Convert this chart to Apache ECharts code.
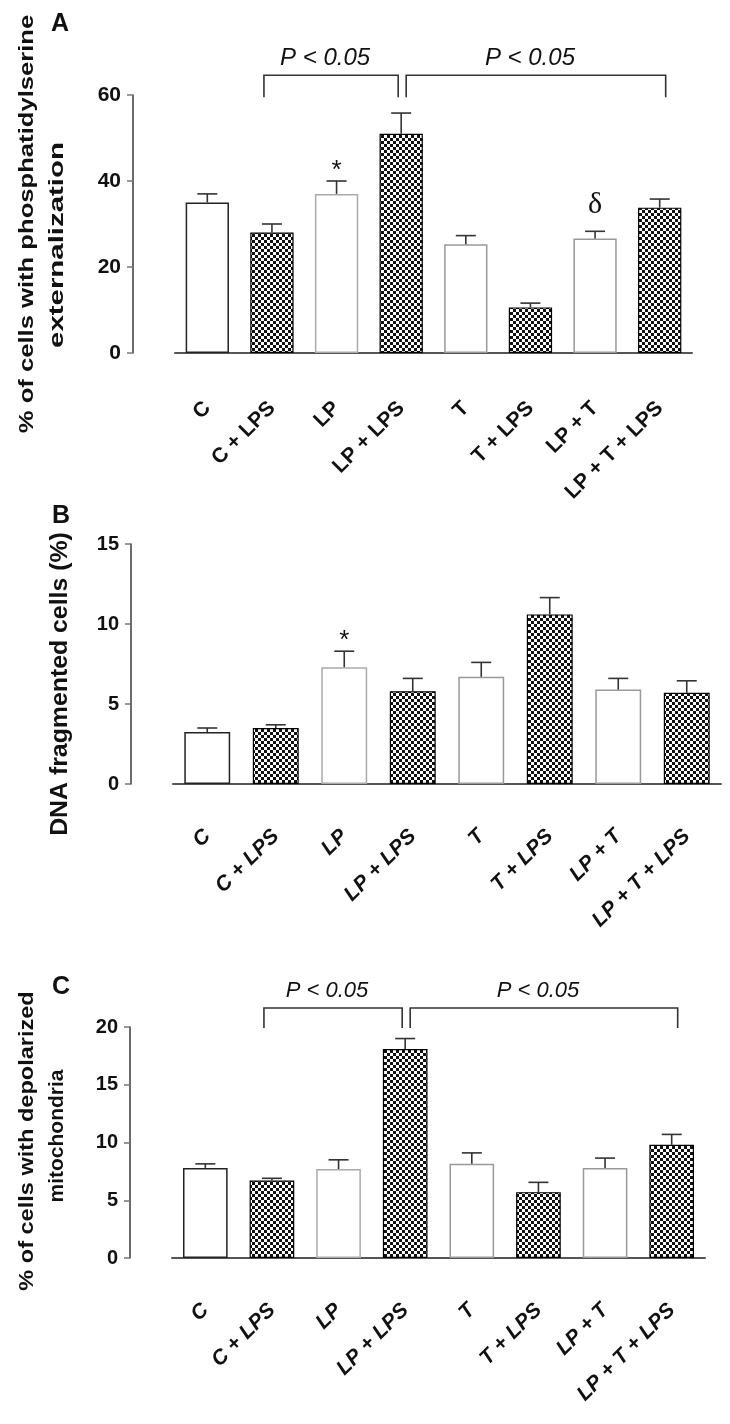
<!DOCTYPE html>
<html>
<head>
<meta charset="utf-8">
<script src="https://cdn.jsdelivr.net/npm/echarts@6/dist/echarts.min.js"></script>
<style>
  html, body { margin: 0; padding: 0; background: #fff; }
  #chart { width: 730px; height: 1424px; }
</style>
</head>
<body>
<div id="chart"></div>
<script>
// groups, same order in all three panels
const categories = ['C', 'C + LPS', 'LP', 'LP + LPS', 'T', 'T + LPS', 'LP + T', 'LP + T + LPS'];
// LPS groups are drawn with the checker fill
const lpsGroup = [false, true, false, true, false, true, false, true];

// A: % of cells with phosphatidylserine externalization
const psMean = [35, 28, 37, 51, 25.3, 10.6, 26.6, 33.8];
const psErr = [2, 2, 3, 4.8, 2, 1, 1.7, 2];
const psMarks = ['', '', '*', '', '', '', 'δ', ''];
const psTicks = [0, 20, 40, 60];

// B: DNA fragmented cells (%)
const dnaMean = [3.25, 3.5, 7.3, 5.8, 6.7, 10.6, 5.9, 5.7];
const dnaErr = [0.25, 0.2, 1.0, 0.8, 0.9, 1.05, 0.7, 0.75];
const dnaMarks = ['', '', '*', '', '', '', '', ''];
const dnaTicks = [0, 5, 10, 15];

// C: % of cells with depolarized mitochondria
const mitoMean = [7.8, 6.7, 7.7, 18.1, 8.15, 5.7, 7.8, 9.8];
const mitoErr = [0.35, 0.2, 0.8, 0.9, 0.95, 0.85, 0.85, 0.9];
const mitoMarks = ['', '', '', '', '', '', '', ''];
const mitoTicks = [0, 5, 10, 15, 20];

// significance brackets: [from group, to group]
const psBrackets = [[1, 3], [3, 7]];
const mitoBrackets = [[1, 3], [3, 7]];
const bracketText = 'P < 0.05';

const FONT = 'Liberation Sans, Arial, Helvetica, sans-serif';
const AXIS = '#3a3a3a';

// checkerboard pattern for the LPS bars
const checker = document.createElement('canvas');
checker.width = 6;
checker.height = 6;
(function () {
  const ctx = checker.getContext('2d');
  ctx.fillStyle = '#fff';
  ctx.fillRect(0, 0, 6, 6);
  ctx.fillStyle = '#111';
  ctx.fillRect(0, 0, 3, 3);
  ctx.fillRect(3, 3, 3, 3);
})();

const whiteBorder = ['#222', '#000', '#aaa', '#000', '#999', '#000', '#999', '#000'];

const panels = [
  { mean: psMean, err: psErr, marks: psMarks, ticks: psTicks, tickSize: 21, labelItalic: false,
    grid: { left: 175, top: 95, width: 517, height: 258 } },
  { mean: dnaMean, err: dnaErr, marks: dnaMarks, ticks: dnaTicks, tickSize: 20, labelItalic: true,
    grid: { left: 173, top: 544, width: 548, height: 240 } },
  { mean: mitoMean, err: mitoErr, marks: mitoMarks, ticks: mitoTicks, tickSize: 20, labelItalic: true,
    grid: { left: 172, top: 1027, width: 533, height: 231 } }
];

const grids = [], xAxes = [], yAxes = [], series = [];

panels.forEach((p, k) => {
  const step = p.ticks[1] - p.ticks[0];
  grids.push(p.grid);
  xAxes.push({
    type: 'category',
    gridIndex: k,
    data: categories,
    offset: k === 0 ? 42 : 39,
    axisLine: { lineStyle: { color: '#555', width: 2 } },
    axisTick: { alignWithLabel: true, length: 8, lineStyle: { color: '#555', width: 1.5 } },
    axisLabel: {
      rotate: 45, margin: 10, color: '#111',
      fontFamily: FONT, fontWeight: 'bold', fontSize: 21,
      fontStyle: p.labelItalic ? 'italic' : 'normal'
    }
  });
  yAxes.push({
    type: 'value',
    gridIndex: k,
    min: p.ticks[0],
    max: p.ticks[p.ticks.length - 1],
    interval: step,
    offset: 42,
    splitLine: { show: false },
    axisLine: { show: true, lineStyle: { color: AXIS, width: 1.5 } },
    axisTick: { show: true, length: 6, lineStyle: { color: '#777', width: 1.5 } },
    axisLabel: { margin: 12, color: '#111', fontFamily: FONT, fontWeight: 'bold', fontSize: p.tickSize }
  });

  series.push({
    type: 'bar',
    xAxisIndex: k,
    yAxisIndex: k,
    barCategoryGap: '33%',
    silent: true,
    data: p.mean.map((v, i) => ({
      value: v,
      itemStyle: lpsGroup[i]
        ? { color: { image: checker, repeat: 'repeat' }, borderColor: '#000', borderWidth: 1.2 }
        : { color: '#fff', borderColor: whiteBorder[i], borderWidth: 1.5 }
    })),
    z: 2
  });

  // error bars (upper half only)
  series.push({
    type: 'custom',
    xAxisIndex: k,
    yAxisIndex: k,
    silent: true,
    z: 3,
    data: p.mean.map((v, i) => [i, v, v + p.err[i]]),
    renderItem: function (params, api) {
      const lo = api.coord([api.value(0), api.value(1)]);
      const hi = api.coord([api.value(0), api.value(2)]);
      const st = { stroke: '#333', lineWidth: 1.6 };
      return {
        type: 'group',
        children: [
          { type: 'line', shape: { x1: lo[0], y1: lo[1], x2: hi[0], y2: hi[1] }, style: st },
          { type: 'line', shape: { x1: hi[0] - 10, y1: hi[1], x2: hi[0] + 10, y2: hi[1] }, style: st }
        ]
      };
    }
  });

  // significance marks above the error bars
  series.push({
    type: 'custom',
    xAxisIndex: k,
    yAxisIndex: k,
    silent: true,
    z: 4,
    data: p.mean.map((v, i) => [i, v + p.err[i]]),
    renderItem: function (params, api) {
      const sym = p.marks[params.dataIndex];
      if (!sym) return null;
      const pt = api.coord([api.value(0), api.value(1)]);
      const isDelta = sym === 'δ';
      return {
        type: 'text',
        x: pt[0],
        y: pt[1] - (isDelta ? 26 : 10),
        style: {
          text: sym,
          fill: '#111',
          font: isDelta ? 'normal 30px Liberation Serif, Times New Roman, serif'
                        : 'normal 26px ' + FONT,
          align: 'center', textAlign: 'center',
          verticalAlign: 'middle', textVerticalAlign: 'middle'
        }
      };
    }
  });
});

const chart = echarts.init(document.getElementById('chart'), null, { renderer: 'canvas' });
chart.setOption({
  animation: false,
  backgroundColor: '#fff',
  grid: grids,
  xAxis: xAxes,
  yAxis: yAxes,
  series: series
});

// ---- text and brackets placed around the plots ----
function txt(x, y, text, font, opts) {
  opts = opts || {};
  return {
    type: 'text', x: x, y: y,
    rotation: opts.rotation || 0,
    scaleX: opts.scaleX || 1,
    style: {
      text: text, font: font, fill: '#111',
      align: 'center', textAlign: 'center',
      verticalAlign: 'middle', textVerticalAlign: 'middle'
    }
  };
}

function bracketGraphics(k, brackets, level, legs, fontSize) {
  const out = [];
  brackets.forEach((b, j) => {
    const p0 = chart.convertToPixel({ xAxisIndex: k, yAxisIndex: k }, [b[0], level]);
    const p1 = chart.convertToPixel({ xAxisIndex: k, yAxisIndex: k }, [b[1], level]);
    // small gap where the two brackets meet on the shared group
    const x0 = p0[0] + (j === 0 ? -8 : 5);
    const x1 = p1[0] + (j === 0 ? -3 : 6);
    const y = p0[1];
    out.push({
      type: 'polyline',
      shape: { points: [[x0, y + legs], [x0, y], [x1, y], [x1, y + legs]] },
      style: { stroke: '#333', lineWidth: 1.6, fill: null }
    });
    out.push(txt((x0 + x1) / 2 - 6, y - 17, bracketText, 'italic ' + fontSize + 'px ' + FONT));
  });
  return out;
}

const BOLD = 'bold 21px ' + FONT;
const graphics = [
  txt(60, 24, 'A', 'bold 25px ' + FONT),
  txt(61, 516, 'B', 'bold 25px ' + FONT),
  txt(61, 987, 'C', 'bold 25px ' + FONT),
  txt(27, 224, '% of cells with phosphatidylserine', BOLD, { rotation: Math.PI / 2, scaleX: 1.22 }),
  txt(57, 245, 'externalization', BOLD, { rotation: Math.PI / 2, scaleX: 1.4 }),
  txt(61, 684, 'DNA fragmented cells (%)', 'bold 23px ' + FONT, { rotation: Math.PI / 2, scaleX: 1.08 }),
  txt(27, 1141, '% of cells with depolarized', BOLD, { rotation: Math.PI / 2, scaleX: 1.12 }),
  txt(57, 1136, 'mitochondria', 'bold 21px ' + FONT, { rotation: Math.PI / 2 })
]
  .concat(bracketGraphics(0, psBrackets, 64.6, 22, 24))
  .concat(bracketGraphics(2, mitoBrackets, 21.65, 20, 22));

chart.setOption({ graphic: graphics });
</script>
</body>
</html>
